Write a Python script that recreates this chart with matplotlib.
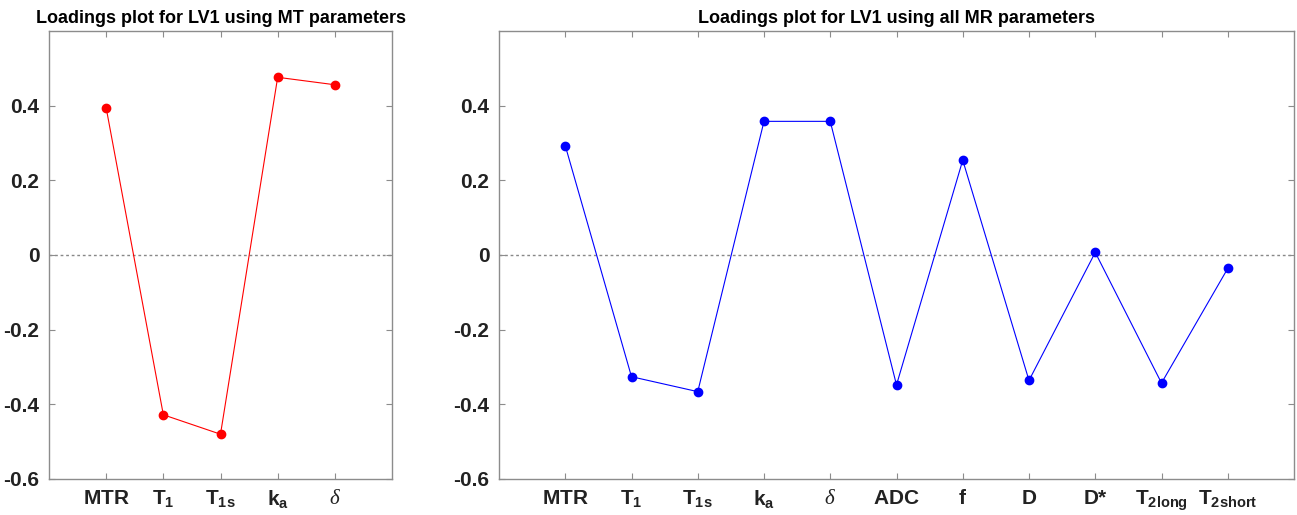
import matplotlib.pyplot as plt

# loadings
mt_labels = [r'$\mathbf{MTR}$', r'$\mathbf{T_1}$', r'$\mathbf{T_{1s}}$', r'$\mathbf{k_a}$', r'$\delta$']
mt_loadings = [0.394, -0.428, -0.480, 0.476, 0.456]

mr_labels = [r'$\mathbf{MTR}$', r'$\mathbf{T_1}$', r'$\mathbf{T_{1s}}$', r'$\mathbf{k_a}$', r'$\delta$',
             r'$\mathbf{ADC}$', r'$\mathbf{f}$', r'$\mathbf{D}$', 'D*',
             r'$\mathbf{T_{2long}}$', r'$\mathbf{T_{2short}}$']
mr_loadings = [0.293, -0.326, -0.366, 0.358, 0.358, -0.348, 0.254, -0.336, 0.007, -0.343, -0.036]

y_ticks = [-0.6, -0.4, -0.2, 0, 0.2, 0.4]

plt.rcParams['font.family'] = ['Liberation Sans', 'DejaVu Sans']
plt.rcParams['mathtext.fontset'] = 'custom'
plt.rcParams['mathtext.rm'] = 'Liberation Sans'
plt.rcParams['mathtext.bf'] = 'Liberation Sans:bold'
plt.rcParams['mathtext.it'] = 'Liberation Serif:italic'

AXIS_GREY = '#8c8c8c'

fig = plt.figure(figsize=(12.97, 5.15), dpi=100)
ax1 = fig.add_axes([49 / 1297, 1 - 479 / 515, (392 - 49) / 1297, (479 - 31) / 515])
ax2 = fig.add_axes([499 / 1297, 1 - 479 / 515, (1294 - 499) / 1297, (479 - 31) / 515])


def style_axes(ax, labels, values, color, title):
    x = list(range(1, len(values) + 1))
    ax.axhline(0, color='#888888', linestyle=(0, (2, 2)), linewidth=1.0, zorder=1)
    ax.plot(x, values, '-', color=color, linewidth=0.8, zorder=2)
    ax.plot(x, values, 'o', color=color, markersize=6, zorder=3)
    ax.set_xlim(0, len(values) + 1)
    ax.set_ylim(-0.6, 0.6)
    ax.set_yticks(y_ticks)
    ax.set_yticklabels([f'{v:g}' for v in y_ticks], fontsize=15, fontweight='bold', color='#222222')
    ax.set_xticks(x)
    ax.set_xticklabels(labels, fontsize=15, fontweight='bold', color='#222222')
    ax.tick_params(direction='in', length=4, width=0.8, color=AXIS_GREY,
                   top=True, right=True, pad=7)
    for s in ax.spines.values():
        s.set_color(AXIS_GREY)
        s.set_linewidth(1.0)
    ax.set_title(title, fontsize=13, fontweight='bold', pad=6)


style_axes(ax1, mt_labels, mt_loadings, '#ff0000', 'Loadings plot for LV1 using MT parameters')
style_axes(ax2, mr_labels, mr_loadings, '#0000ff', 'Loadings plot for LV1 using all MR parameters')

fig.savefig('out.png', dpi=100)
